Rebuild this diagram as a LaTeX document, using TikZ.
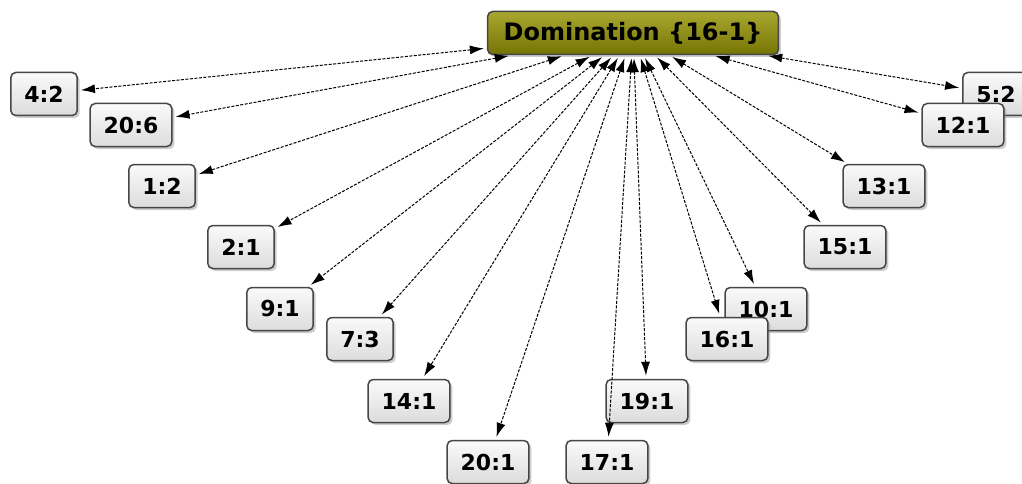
\documentclass[tikz,border=0pt]{standalone}
\usepackage{fontspec}
\setmainfont{DejaVu Sans}
\usepackage{tikz}
\usetikzlibrary{arrows.meta,positioning,shapes,shadows}
\definecolor{boxtop}{RGB}{250,250,250}
\definecolor{boxbot}{RGB}{220,220,220}
\definecolor{rimgray}{RGB}{70,70,70}
\definecolor{olivetop}{RGB}{168,168,48}
\definecolor{olivebot}{RGB}{118,116,4}

\begin{document}
\begin{tikzpicture}[x = 1pt, y = -1pt,
  leaf/.style = {draw = rimgray, line width = 1.5pt, rounded corners = 5pt,
    top color = boxtop, bottom color = boxbot, minimum height = 43pt,
    inner xsep = 13.5pt, font = \fontsize{22}{24}\selectfont\bfseries,
    text = black, drop shadow = {opacity = .4, shadow xshift = 2.5pt, shadow yshift = -2.5pt}},
  root/.style = {leaf, top color = olivetop, bottom color = olivebot,
    font = \fontsize{24}{26}\selectfont\bfseries, inner xsep = 16pt},
  link/.style = {{Latex[length=14pt,width=9pt]}-{Latex[length=14pt,width=9pt]},
    line width = 1pt, dash pattern = on 3pt off 1.5pt, shorten <= 3pt, shorten >= 3pt}]
\useasboundingbox (0,0) rectangle (1022,484);
\node[root] (dom) at (633,33) {Domination \{16-1\}};
% left side
\node[leaf] (a42) at (44,94) {4:2};
\node[leaf] (a206) at (131,125) {20:6};
\node[leaf] (a12) at (162,186) {1:2};
\node[leaf] (a21) at (241,247) {2:1};
\node[leaf] (a91) at (280,309) {9:1};
\node[leaf] (a73) at (360,339) {7:3};
\node[leaf] (a141) at (409,401) {14:1};
\node[leaf] (a201) at (488,462) {20:1};
% right side
\node[leaf] (a171) at (607,462) {17:1};
\node[leaf] (a191) at (647,401) {19:1};
\node[leaf] (a101) at (766,309) {10:1};
\node[leaf] (a161) at (727,339) {16:1};
\node[leaf] (a151) at (845,247) {15:1};
\node[leaf] (a131) at (884,186) {13:1};
\node[leaf] (a52) at (996,94) {5:2};
\node[leaf] (a121) at (963,125) {12:1};
\foreach \n in {a42,a206,a12,a21,a91,a73,a141,a201,a171,a191,a101,a161,a151,a131,a52,a121}
  \draw[link] (dom) -- (\n);
\end{tikzpicture}
\end{document}
